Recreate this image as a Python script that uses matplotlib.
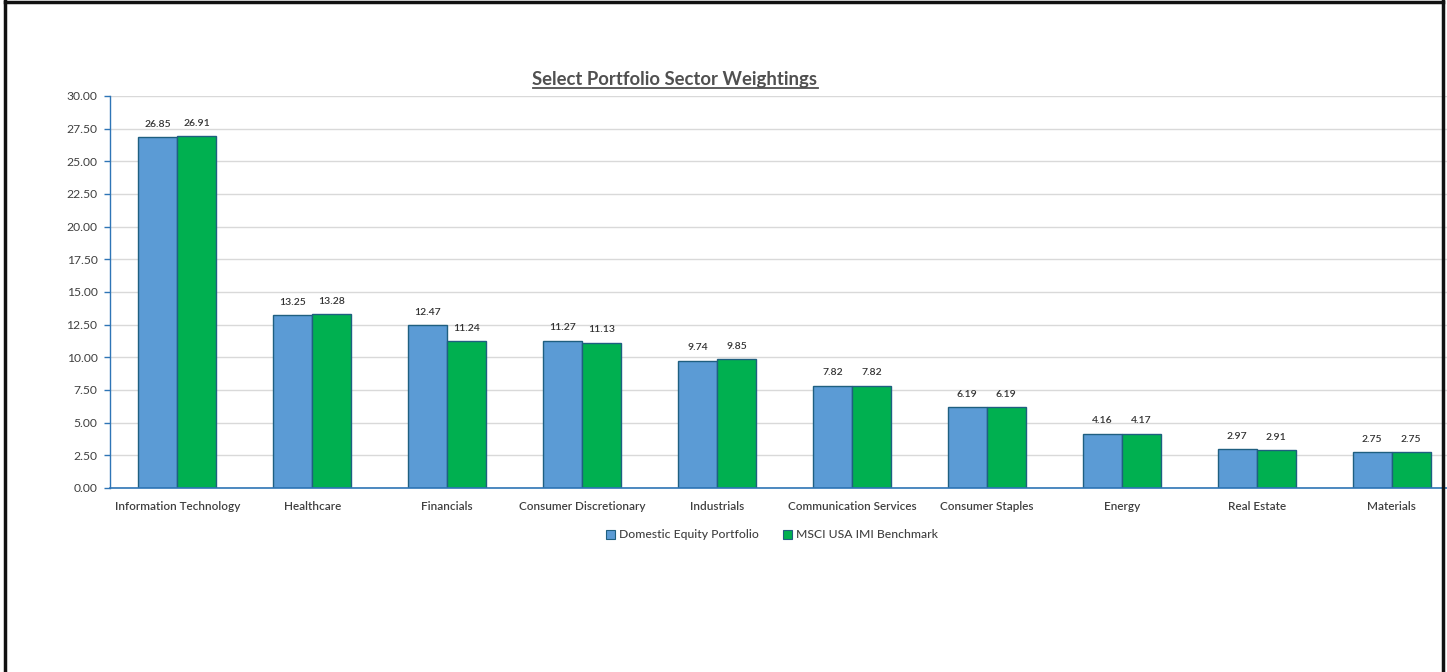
import matplotlib
matplotlib.use("Agg")
import matplotlib.pyplot as plt
from matplotlib.lines import Line2D
from matplotlib.patches import Patch
import numpy as np

sectors = ["Information Technology", "Healthcare", "Financials", "Consumer Discretionary",
           "Industrials", "Communication Services", "Consumer Staples", "Energy",
           "Real Estate", "Materials"]
portfolio = [26.85, 13.25, 12.47, 11.27, 9.74, 7.82, 6.19, 4.16, 2.97, 2.75]
benchmark = [26.91, 13.28, 11.24, 11.13, 9.85, 7.82, 6.19, 4.17, 2.91, 2.75]
series_names = ["Domestic Equity Portfolio", "MSCI USA IMI Benchmark"]
y_ticks = [0, 2.5, 5, 7.5, 10, 12.5, 15, 17.5, 20, 22.5, 25, 27.5, 30]

BLUE = "#5B9BD5"
GREEN = "#00B050"
EDGE = "#1F5F80"
AXIS = "#2E75B6"
TEXT = "#404040"
FONT = ["Lato", "DejaVu Sans"]

W, H = 1447, 672
fig = plt.figure(figsize=(W / 100, H / 100), dpi=100)
fig.patch.set_facecolor("white")

# plot area: the category axis runs past the right edge of the figure
left_px, right_px, top_px, bottom_px = 110, 1459, 96, 488
ax = fig.add_axes([left_px / W, 1 - bottom_px / H,
                   (right_px - left_px) / W, (bottom_px - top_px) / H])

x = np.arange(len(sectors))
bw = 0.289
b1 = ax.bar(x - bw / 2, portfolio, bw, color=BLUE, edgecolor=EDGE, linewidth=1.0, zorder=3)
b2 = ax.bar(x + bw / 2, benchmark, bw, color=GREEN, edgecolor=EDGE, linewidth=1.0, zorder=3)

for bars, vals in ((b1, portfolio), (b2, benchmark)):
    for r, v in zip(bars, vals):
        ax.annotate(f"{v:.2f}", (r.get_x() + r.get_width() / 2, v),
                    xytext=(0, 6), textcoords="offset points",
                    ha="center", va="bottom", fontsize=7.5, color="#333333",
                    family=FONT, fontweight="semibold")

ax.set_xlim(-0.5, len(sectors) - 0.5)
ax.set_ylim(0, 30)
ax.set_yticks(y_ticks)
ax.set_yticklabels([f"{t:.2f}" for t in y_ticks], fontsize=8.7, color=TEXT, family=FONT)
ax.set_xticks(x)
ax.set_xticklabels(sectors, fontsize=8.5, color=TEXT, family=FONT, fontweight="semibold")
ax.tick_params(axis="x", length=0, pad=9)
ax.tick_params(axis="y", length=4, color=AXIS, width=1, pad=5)

ax.grid(axis="y", color="#D9D9D9", linewidth=1, zorder=0)
for s in ("top", "right"):
    ax.spines[s].set_visible(False)
ax.spines["left"].set_color(AXIS)
ax.spines["bottom"].set_color(AXIS)
ax.spines["left"].set_linewidth(1)
ax.spines["bottom"].set_linewidth(1.2)
ax.spines["bottom"].set_zorder(4)

handles = [Patch(facecolor=BLUE, edgecolor=EDGE, linewidth=0.8),
           Patch(facecolor=GREEN, edgecolor=EDGE, linewidth=0.8)]
fig.legend(handles, series_names, loc="center", bbox_to_anchor=(772 / W, 1 - 535 / H),
           ncol=2, frameon=False, handlelength=0.75, handleheight=0.75,
           handletextpad=0.3, columnspacing=2.0,
           prop={"family": FONT, "size": 8.7, "weight": "medium"}, labelcolor=TEXT)

title = fig.text(675 / W, 1 - 79 / H, "Select Portfolio Sector Weightings",
                 ha="center", va="center", fontsize=13.3, fontweight="bold",
                 color="#505050", family=FONT)

# underline the title
fig.canvas.draw()
bb = title.get_window_extent(renderer=fig.canvas.get_renderer())
uy = bb.y0 / H
fig.add_artist(Line2D([bb.x0 / W, bb.x1 / W], [uy, uy], color="#505050",
                      linewidth=1.3, transform=fig.transFigure))

# black frame on left, top and right
for xs, ys in (([5 / W, 5 / W], [0, 1]),
               ([5 / W, 1443 / W], [1 - 2 / H, 1 - 2 / H]),
               ([1443 / W, 1443 / W], [0, 1])):
    fig.add_artist(Line2D(xs, ys, color="#111111", linewidth=2.5,
                          transform=fig.transFigure, zorder=10))

fig.savefig("out.png", dpi=100, facecolor="white")
